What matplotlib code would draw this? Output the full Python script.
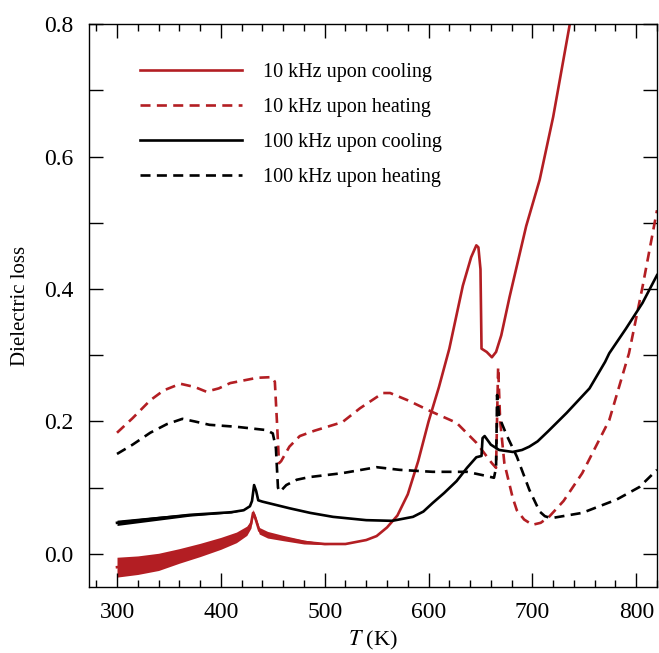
import numpy as np
import matplotlib
matplotlib.use('Agg')
import matplotlib.pyplot as plt

# 10 kHz upon cooling
T_c10 = [300, 320, 340, 360, 380, 400, 415, 425, 429, 431, 433, 437, 445, 460, 480,
         500, 520, 540, 550, 560, 570, 580, 590, 600, 610, 620, 633, 641, 646, 648, 650,
         651, 656, 661, 665, 670, 678, 694, 707, 720, 736, 740]
y_c10 = [-0.020, -0.017, -0.012, -0.003, 0.006, 0.016, 0.025, 0.035, 0.045, 0.062, 0.055,
         0.035, 0.029, 0.024, 0.018, 0.015, 0.015, 0.021, 0.027, 0.040, 0.058, 0.090,
         0.140, 0.200, 0.252, 0.310, 0.405, 0.448, 0.466, 0.463, 0.430, 0.310, 0.305,
         0.297, 0.305, 0.330, 0.388, 0.495, 0.565, 0.660, 0.800, 0.830]
# half width of the noisy band
n_c10 = [0.015, 0.014, 0.013, 0.011, 0.010, 0.009, 0.008, 0.007, 0.006, 0.005, 0.005,
         0.005, 0.005, 0.004, 0.003, 0.001, 0, 0, 0, 0, 0, 0, 0, 0, 0, 0, 0, 0, 0, 0, 0,
         0, 0, 0, 0, 0, 0, 0, 0, 0, 0, 0]

# 10 kHz upon heating
T_h10 = [300, 315, 332, 345, 361, 375, 386, 398, 409, 435, 449, 452, 454, 456, 458, 466,
         476, 490, 517, 534, 556, 563, 580, 604, 627, 646, 661, 665, 667, 669, 673, 681,
         685, 692, 700, 708, 716, 730, 748, 774, 793, 806, 820]
y_h10 = [0.183, 0.205, 0.232, 0.247, 0.257, 0.252, 0.245, 0.250, 0.258, 0.266, 0.267,
         0.260, 0.200, 0.137, 0.140, 0.162, 0.178, 0.186, 0.199, 0.220, 0.243, 0.243,
         0.232, 0.214, 0.198, 0.168, 0.137, 0.130, 0.282, 0.200, 0.137, 0.085, 0.066,
         0.052, 0.044, 0.047, 0.056, 0.080, 0.122, 0.202, 0.303, 0.403, 0.519]

# 100 kHz upon cooling
T_c100 = [300, 340, 370, 410, 422, 428, 430, 432, 434, 436, 440, 466, 486, 508, 540, 565,
          585, 595, 604, 615, 627, 637, 646, 651, 652, 654, 660, 668, 681, 690, 697, 705,
          715, 733, 755, 770, 774, 790, 806, 820]
y_c100 = [0.047, 0.054, 0.059, 0.063, 0.066, 0.072, 0.080, 0.104, 0.095, 0.081, 0.079,
          0.069, 0.062, 0.056, 0.051, 0.050, 0.056, 0.064, 0.077, 0.092, 0.110, 0.130,
          0.146, 0.148, 0.175, 0.178, 0.165, 0.157, 0.154, 0.157, 0.162, 0.170, 0.185,
          0.213, 0.250, 0.290, 0.303, 0.340, 0.379, 0.421]
n_c100 = [0.004, 0.003, 0.002, 0.001, 0, 0, 0, 0, 0, 0, 0, 0, 0, 0, 0, 0, 0, 0, 0, 0, 0,
          0, 0, 0, 0, 0, 0, 0, 0, 0, 0, 0, 0, 0, 0, 0, 0, 0, 0, 0]

# 100 kHz upon heating
T_h100 = [300, 315, 332, 348, 363, 375, 389, 415, 444, 450, 453, 455, 457, 463, 473, 485,
          517, 550, 572, 604, 637, 652, 663, 665, 666, 668, 675, 685, 697, 707, 712, 718,
          748, 781, 803, 820]
y_h100 = [0.151, 0.165, 0.183, 0.196, 0.204, 0.200, 0.195, 0.192, 0.187, 0.182, 0.160,
          0.100, 0.094, 0.104, 0.112, 0.116, 0.122, 0.131, 0.127, 0.124, 0.124, 0.119,
          0.115, 0.130, 0.240, 0.207, 0.180, 0.147, 0.097, 0.064, 0.057, 0.054, 0.062,
          0.082, 0.101, 0.127]

red = '#b31e23'
plt.rcParams['font.family'] = ['Liberation Serif', 'DejaVu Serif']
plt.rcParams['mathtext.fontset'] = 'stix'

fig = plt.figure(figsize=(6.59, 6.53), dpi=100)
ax = fig.add_axes([0.135, 0.101, 0.862, 0.862])

lw = 1.9
ax.plot(T_c10, y_c10, color=red, lw=lw, label='10 kHz upon cooling')
ax.fill_between(T_c10, np.array(y_c10) - np.array(n_c10), np.array(y_c10) + np.array(n_c10),
                color=red, lw=0)
ax.plot(T_h10, y_h10, color=red, lw=lw, dashes=(3.8, 2.4), label='10 kHz upon heating')
ax.plot(T_c100, y_c100, color='black', lw=lw, label='100 kHz upon cooling')
ax.fill_between(T_c100, np.array(y_c100) - np.array(n_c100), np.array(y_c100) + np.array(n_c100),
                color='black', lw=0)
ax.plot(T_h100, y_h100, color='black', lw=lw, dashes=(3.8, 2.4), label='100 kHz upon heating')

ax.set_xlim(273, 820)
ax.set_ylim(-0.05, 0.8)
ax.set_xticks([300, 400, 500, 600, 700, 800])
ax.set_xticks(np.arange(280, 821, 20), minor=True)
yt = np.round(np.arange(0, 0.81, 0.1), 1)
ax.set_yticks(yt)
ax.set_yticklabels([f'{v:.1f}' if i % 2 == 0 else '' for i, v in enumerate(yt)])
ax.tick_params(which='both', direction='in', top=True, right=True, labelsize=17, width=1,
               pad=11)
ax.tick_params(which='major', length=10)
ax.tick_params(which='minor', length=5)
for s in ax.spines.values():
    s.set_linewidth(1)

ax.set_xlabel('$T$ (K)', fontsize=16, labelpad=4)
ax.set_ylabel('Dielectric loss', fontsize=15, labelpad=10)

ax.legend(loc='upper left', bbox_to_anchor=(0.075, 0.945), frameon=False, fontsize=14.5,
          handlelength=5.1, handletextpad=1.05, labelspacing=0.78, borderaxespad=0)

fig.savefig('out.png', dpi=100)
